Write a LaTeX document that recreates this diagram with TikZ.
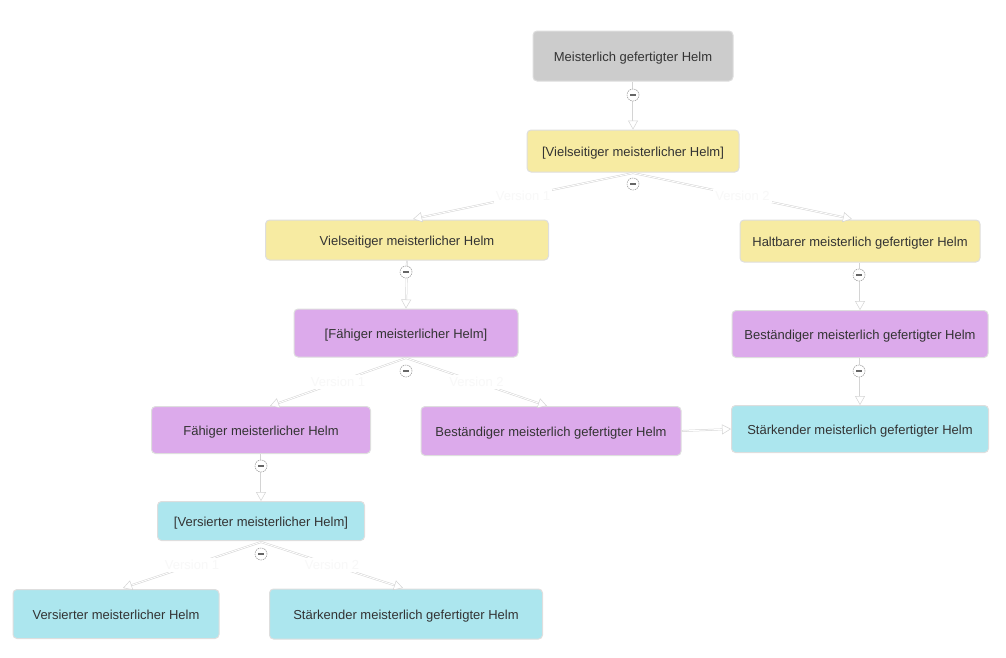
\documentclass[tikz,border=0pt]{standalone}
\usepackage{fontspec}
\setmainfont{Liberation Sans}
\usetikzlibrary{arrows.meta,positioning}
\definecolor{cgray}{RGB}{204,204,204}
\definecolor{cyel}{RGB}{247,235,162}
\definecolor{cpur}{RGB}{220,170,235}
\definecolor{ccya}{RGB}{172,230,238}
\definecolor{ctext}{RGB}{51,51,51}
\definecolor{cedge}{RGB}{212,212,212}
\definecolor{cborder}{RGB}{222,222,222}
\definecolor{clabel}{RGB}{248,248,248}
\tikzset{
  box/.style={draw=cborder, line width=1pt, rounded corners=4pt, text=ctext,
    font=\fontsize{13}{15}\selectfont, inner sep=0pt, anchor=center,
    text height=11.5pt, text depth=0pt},
  edge/.style={draw=cedge, double=white, double distance=0.9pt, line width=0.5pt,
    -{Triangle[open,length=9pt,width=10pt,fill=white]}},
  mk/.style={circle, draw=black!35, line width=0.6pt, dash pattern=on 1.5pt off 0.8pt, fill=white, minimum size=12pt, inner sep=0pt,
    path picture={\fill[black!60] ([xshift=-3pt,yshift=-1pt]path picture bounding box.center) rectangle ([xshift=3pt,yshift=1pt]path picture bounding box.center);}},
  vlab/.style={fill=white, text=clabel, font=\fontsize{13}{15}\selectfont, inner sep=2pt}
}
\begin{document}
\begin{tikzpicture}[x=1pt,y=-1pt]
\useasboundingbox (0,0) rectangle (1006,657);
% nodes
\node[box, fill=cgray, minimum width=200pt, minimum height=50pt] (n1) at (633,56) {Meisterlich gefertigter Helm};
\node[box, fill=cyel, minimum width=212pt, minimum height=42pt] (n2) at (633,151) {[Vielseitiger meisterlicher Helm]};
\node[box, fill=cyel, minimum width=283pt, minimum height=40pt] (n3) at (407,240) {Vielseitiger meisterlicher Helm};
\node[box, fill=cyel, minimum width=240pt, minimum height=42pt] (n4) at (860,241) {Haltbarer meisterlich gefertigter Helm};
\node[box, fill=cpur, minimum width=224pt, minimum height=48pt] (n5) at (406,333) {[Fähiger meisterlicher Helm]};
\node[box, fill=cpur, minimum width=256pt, minimum height=47pt] (n6) at (860,334) {Beständiger meisterlich gefertigter Helm};
\node[box, fill=cpur, minimum width=219pt, minimum height=47pt] (n7) at (261,430) {Fähiger meisterlicher Helm};
\node[box, fill=cpur, minimum width=260pt, minimum height=49pt] (n8) at (551,431) {Beständiger meisterlich gefertigter Helm};
\node[box, fill=ccya, minimum width=257pt, minimum height=47pt] (n9) at (860,429) {Stärkender meisterlich gefertigter Helm};
\node[box, fill=ccya, minimum width=207pt, minimum height=39pt] (n10) at (261,521) {[Versierter meisterlicher Helm]};
\node[box, fill=ccya, minimum width=206pt, minimum height=49pt] (n11) at (116,614) {Versierter meisterlicher Helm};
\node[box, fill=ccya, minimum width=273pt, minimum height=50pt] (n12) at (406,614) {Stärkender meisterlich gefertigter Helm};
% coordinates for branch tips
\coordinate (s2) at (633,173);
\coordinate (t3) at (413,219);
\coordinate (t4) at (852,219);
\coordinate (s5) at (406,358);
\coordinate (t7) at (270,406);
\coordinate (t8) at (547,406);
\coordinate (s10) at (261,542);
\coordinate (t11) at (123,588);
\coordinate (t12) at (403,588);
% edges
\draw[edge] (n1.south) -- (n2.north);
\draw[edge] (s2) -- node[vlab, pos=0.5] (l1) {Version 1} (t3);
\draw[edge] (s2) -- node[vlab, pos=0.5] (l2) {Version 2} (t4);
\draw[edge] (n3.south) -- (n5.north);
\draw[edge] (n4.south) -- (n6.north);
\draw[edge] (s5) -- node[vlab, pos=0.5] (l3) {Version 1} (t7);
\draw[edge] (s5) -- node[vlab, pos=0.5] (l4) {Version 2} (t8);
\draw[edge] (n6.south) -- (n9.north);
\draw[edge] (n8.east) -- (n9.west);
\draw[edge] (n7.south) -- (n10.north);
\draw[edge] (s10) -- node[vlab, pos=0.5] (l5) {Version 1} (t11);
\draw[edge] (s10) -- node[vlab, pos=0.5] (l6) {Version 2} (t12);
% markers
\node[mk] (m1) at (633,95) {};
\node[mk] (m2) at (633,184) {};
\node[mk] (m3) at (406,272) {};
\node[mk] (m4) at (859,275) {};
\node[mk] (m5) at (406,371) {};
\node[mk] (m6) at (859,371) {};
\node[mk] (m7) at (261,466) {};
\node[mk] (m8) at (261,554) {};
\end{tikzpicture}
\end{document}
